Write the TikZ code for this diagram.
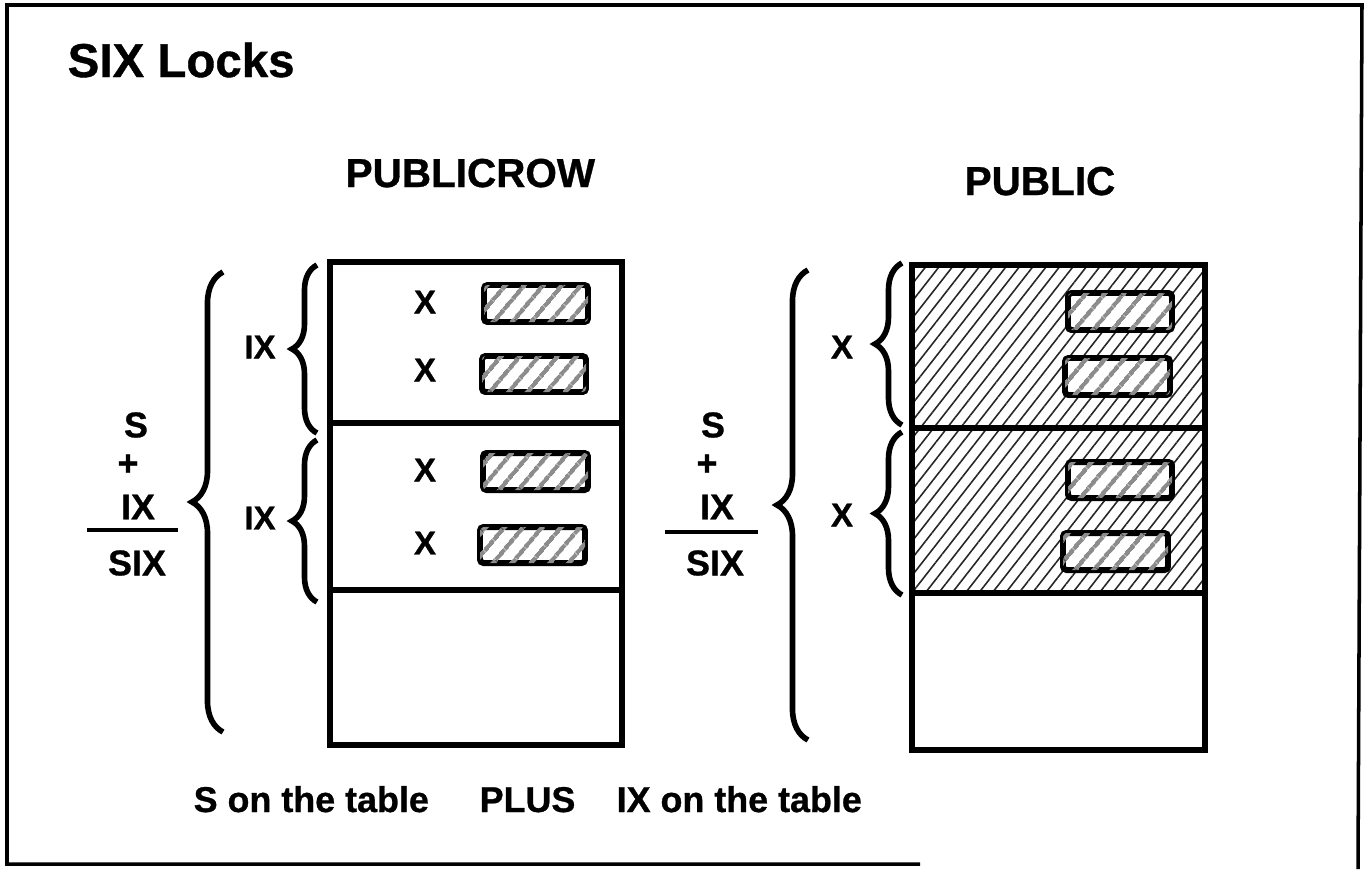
\documentclass[tikz,border=0pt]{standalone}
\usepackage{fontspec}
\setmainfont{Liberation Sans}[BoldFeatures={FakeBold=0.8}]
\usetikzlibrary{decorations.pathreplacing,patterns.meta}

\tikzset{
  lockbrace/.style={decorate,decoration={brace,amplitude=#1},line width=1.6pt},
  tablebox/.style={line width=1.5pt},
  rowbox/.style={line width=1.7pt,rounded corners=1pt,fill=white,
    postaction={pattern={Lines[angle=50,distance=4pt,line width=1.3pt]},pattern color=black!45}},
  heading/.style={inner sep=0pt,font=\fontsize{13.5pt}{16pt}\selectfont\bfseries},
  tabname/.style={inner sep=0pt,font=\fontsize{11.5pt}{14pt}\selectfont\bfseries},
  lab/.style={inner sep=0pt,font=\fontsize{9.4pt}{11pt}\selectfont\bfseries},
  sum/.style={inner sep=0pt,font=\fontsize{10.2pt}{12pt}\selectfont\bfseries}
}

\begin{document}
\begin{tikzpicture}[x=0.01cm,y=-0.01cm]
\useasboundingbox (0,0) rectangle (1366,869);
% frame, open at the lower right
\draw[line width=1pt] (920,864) -- (7,864) -- (7,5) -- (1362,5) -- (1358,869);
\path (67,77) node[heading,anchor=base west] (title) {SIX Locks};

% PUBLICROW table
\path (345,187) node[tabname,anchor=base west] (rowname) {PUBLICROW};
\draw[tablebox] (330,262) rectangle (622,745);
\draw[tablebox] (330,423) -- (622,423);
\draw[tablebox] (330,590) -- (622,590);
\draw[rowbox] (484,285) rectangle (588,322);
\draw[rowbox] (482,356) rectangle (586,392);
\draw[rowbox] (483,453) rectangle (588,490);
\draw[rowbox] (480,527) rectangle (585,563);
\path (425,302) node[lab] (rx1) {X};
\path (425,370) node[lab] (rx2) {X};
\path (425,470) node[lab] (rx3) {X};
\path (425,543) node[lab] (rx4) {X};
\draw[lockbrace=0.25cm] (317,433) -- (317,265);
\draw[lockbrace=0.25cm] (317,602) -- (317,440);
\path (260,347) node[lab] (rix1) {IX};
\path (260,518) node[lab] (rix2) {IX};
\draw[lockbrace=0.31cm] (223,732) -- (223,272);
\path (136,425) node[sum] (rs) {S};
\path (128,465) node[sum] (rplus) {+};
\path (138,507) node[sum] (rix) {IX};
\draw[line width=1pt] (87,530) -- (178,530);
\path (137,563) node[sum] (rsix) {SIX};

% PUBLIC table
\path (1040,195) node[tabname,anchor=base] (tabname) {PUBLIC};
\fill[pattern={Lines[angle=52,distance=3pt,line width=0.45pt]},pattern color=black!85] (912,265) rectangle (1205,593);
\draw[tablebox] (912,265) rectangle (1205,750);
\draw[tablebox] (912,428) -- (1205,428);
\draw[tablebox] (912,593) -- (1205,593);
\draw[rowbox] (1068,293) rectangle (1172,330);
\draw[rowbox] (1065,358) rectangle (1170,395);
\draw[rowbox] (1068,462) rectangle (1172,498);
\draw[rowbox] (1063,533) rectangle (1168,570);
\draw[lockbrace=0.27cm] (902,425) -- (902,263);
\draw[lockbrace=0.27cm] (902,595) -- (902,432);
\path (842,347) node[lab] (tx1) {X};
\path (842,515) node[lab] (tx2) {X};
\draw[lockbrace=0.31cm] (808,740) -- (808,270);
\path (713,425) node[sum] (ts) {S};
\path (707,465) node[sum] (tplus) {+};
\path (717,507) node[sum] (tix) {IX};
\draw[line width=1pt] (665,532) -- (758,532);
\path (715,563) node[sum] (tsix) {SIX};

% caption line
\path (193,812) node[sum,anchor=base west] (onS) {S on the table};
\path (479,812) node[sum,anchor=base west] (plus) {PLUS};
\path (616,812) node[sum,anchor=base west] (onIX) {IX on the table};

\end{tikzpicture}
\end{document}
